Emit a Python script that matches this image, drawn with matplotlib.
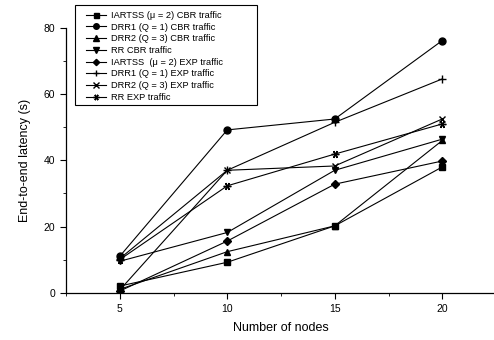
import matplotlib
matplotlib.use("Agg")
import matplotlib.pyplot as plt
from matplotlib.patches import Rectangle
from matplotlib.ticker import MultipleLocator

plt.rcParams["font.family"] = ["Liberation Sans", "DejaVu Sans"]

nodes = [5, 10, 15, 20]

iartss_cbr = [2.0, 9.2, 20.2, 38.0]
drr1_cbr = [11.0, 49.2, 52.5, 76.2]
drr2_cbr = [1.0, 12.4, 20.2, 46.0]
rr_cbr = [9.5, 18.2, 37.0, 46.4]
iartss_exp = [0.5, 15.6, 32.8, 39.8]
drr1_exp = [10.3, 37.0, 51.5, 64.6]
drr2_exp = [0.8, 37.0, 38.3, 52.5]
rr_exp = [10.0, 32.3, 41.9, 51.0]

labels = [
    "IARTSS (μ = 2) CBR traffic",
    "DRR1 (Q = 1) CBR traffic",
    "DRR2 (Q = 3) CBR traffic",
    "RR CBR traffic",
    "IARTSS  (μ = 2) EXP traffic",
    "DRR1 (Q = 1) EXP traffic",
    "DRR2 (Q = 3) EXP traffic",
    "RR EXP traffic",
]
series = [iartss_cbr, drr1_cbr, drr2_cbr, rr_cbr,
          iartss_exp, drr1_exp, drr2_exp, rr_exp]
markers = ["s", "o", "^", "v", "D", "+", "x", (6, 2, 90)]
msizes = [4.5, 5, 5, 5, 4, 5.5, 5, 5.5]

W, H = 494, 340
fig = plt.figure(figsize=(W / 100, H / 100), dpi=100)
ax = fig.add_axes([66 / W, 47.3 / H, 430 / W, 264.7 / H])

for ys, lab, mk, ms in zip(series, labels, markers, msizes):
    ax.plot(nodes, ys, color="black", linewidth=0.8, marker=mk,
            markersize=ms, markerfacecolor="black", markeredgecolor="black",
            markeredgewidth=1.0, label=lab)

ax.set_xlim(2.5, 22.5)
ax.set_ylim(0, 80)
ax.xaxis.set_major_locator(MultipleLocator(5))
ax.xaxis.set_minor_locator(MultipleLocator(2.5))
ax.yaxis.set_major_locator(MultipleLocator(20))
ax.yaxis.set_minor_locator(MultipleLocator(10))
ax.set_xticks([5, 10, 15, 20])

for side in ("top", "right"):
    ax.spines[side].set_visible(False)
for side in ("left", "bottom"):
    ax.spines[side].set_linewidth(0.9)

ax.tick_params(which="major", direction="out", length=4, width=0.8,
               labelsize=7.5, pad=4)
ax.tick_params(which="minor", direction="out", length=2, width=0.6)

ax.set_xlabel("Number of nodes", fontsize=9, labelpad=6)
ax.set_ylabel("End-to-end latency (s)", fontsize=9, labelpad=9)

# legend entries without their own frame, boxed by a plain rectangle
leg = fig.legend(loc="upper left", bbox_to_anchor=(86 / W, 1 - 11 / H),
                 fontsize=6.7, numpoints=1, frameon=False,
                 handlelength=2.2, handletextpad=0.5,
                 labelspacing=0.29, borderpad=0, borderaxespad=0,
                 markerscale=0.8)
fig.patches.append(Rectangle((75 / W, 1 - 105 / H), 182 / W, 100 / H,
                             transform=fig.transFigure, fill=False,
                             edgecolor="black", linewidth=0.8))

fig.savefig("out.png", dpi=100)
